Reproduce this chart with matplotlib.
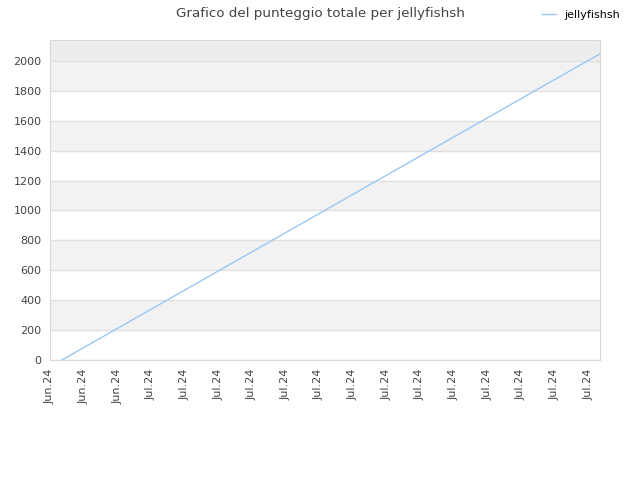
import numpy as np
import matplotlib.pyplot as plt
import matplotlib.dates as mdates
from datetime import datetime, timedelta

# daily totals for jellyfishsh
start = datetime(2024, 6, 26, 17, 0)
totals = [0, 64, 128, 192, 256, 320, 384, 448, 512, 576, 640,
          704, 768, 832, 896, 960, 1024, 1088, 1152, 1216, 1280,
          1344, 1408, 1472, 1536, 1600, 1664, 1728, 1792, 1856, 1920,
          1984, 2047]
dates = [start + timedelta(days=i) for i in range(len(totals))]

tick_dates = [datetime(2024, 6, 26) + timedelta(days=2 * i) for i in range(17)]
y_ticks = list(range(0, 2001, 200))

fig = plt.figure(figsize=(6.4, 4.8), dpi=100)
ax = fig.add_axes([50 / 640, 120 / 480, 550 / 640, 320 / 480])

ymax = 2140
# alternating bands
for i, lo in enumerate(y_ticks[:-1]):
    if i % 2 == 1:
        ax.axhspan(lo, lo + 200, color='#f2f2f2', zorder=0, lw=0)
ax.axhspan(2000, ymax, color='#ededed', zorder=0, lw=0)
for y in y_ticks:
    ax.axhline(y, color='#e0e0e0', lw=1, zorder=1)

ax.plot(dates, totals, color='#99c8f5', lw=1, label='jellyfishsh', zorder=3)

ax.set_ylim(0, ymax)
ax.set_xlim(datetime(2024, 6, 26), dates[-1])
ax.set_yticks(y_ticks)
ax.set_xticks(tick_dates)
ax.xaxis.set_major_formatter(mdates.DateFormatter('%b.%y'))
ax.tick_params(axis='x', rotation=90, length=0, labelsize=8, colors='#444444', pad=6)
ax.tick_params(axis='y', length=0, labelsize=8, colors='#444444', pad=6)
for s in ax.spines.values():
    s.set_color('#d9d9d9')

fig.suptitle('Grafico del punteggio totale per jellyfishsh', x=0.5, y=0.985,
             fontsize=9.7, color='#444444')
fig.legend(loc='upper right', bbox_to_anchor=(0.985, 1.0), frameon=False,
           fontsize=8, handlelength=1.2)

fig.savefig('out.png', dpi=100)
